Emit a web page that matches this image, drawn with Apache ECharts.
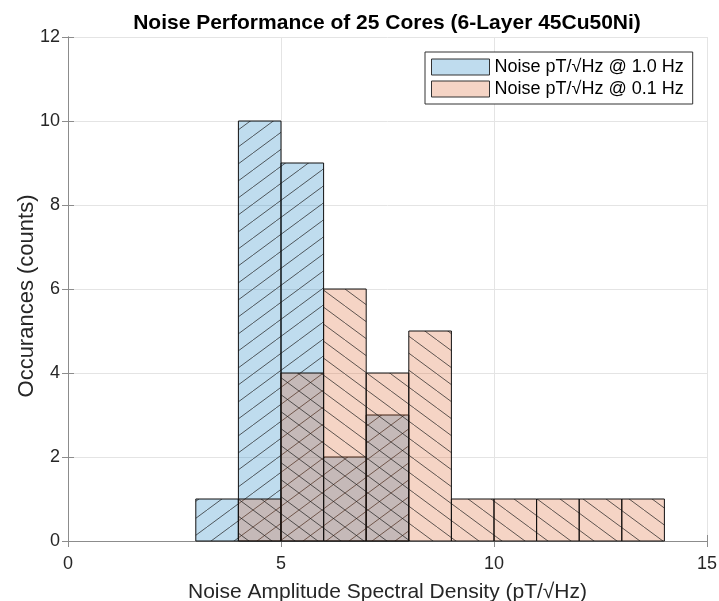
<!DOCTYPE html>
<html>
<head>
<meta charset="utf-8">
<script src="https://cdn.jsdelivr.net/npm/echarts@6/dist/echarts.min.js"></script>
<style>
  html, body { margin: 0; padding: 0; background: #fff; }
  #chart { width: 719px; height: 601px; }
</style>
</head>
<body>
<div id="chart"></div>
<script>
// histogram bins (left edge), bin width 1
const binWidth = 1;
const binStart1Hz = [3, 4, 5, 6, 7];
const counts1Hz = [1, 10, 9, 2, 3];
const binStart01Hz = [4, 5, 6, 7, 8, 9, 10, 11, 12, 13];
const counts01Hz = [1, 4, 6, 4, 5, 1, 1, 1, 1, 1];

const seriesNames = ['Noise pT/\u221AHz @ 1.0 Hz', 'Noise pT/\u221AHz @ 0.1 Hz'];

const blueFill = 'rgba(0,114,189,0.25)';
const redFill = 'rgba(217,83,25,0.25)';

// hatch tile, dir 1 = "/" , -1 = "\"
function makeHatch(fill, dir) {
    const w = 23, h = 17;
    const c = document.createElement('canvas');
    c.width = w; c.height = h;
    const ctx = c.getContext('2d');
    ctx.fillStyle = fill;
    ctx.fillRect(0, 0, w, h);
    ctx.strokeStyle = 'rgba(30,30,30,0.7)';
    ctx.lineWidth = 1;
    for (let n = -1; n <= 1; n++) {
        ctx.beginPath();
        if (dir > 0) {
            ctx.moveTo(n * w, h);
            ctx.lineTo(n * w + w, 0);
        } else {
            ctx.moveTo(n * w, 0);
            ctx.lineTo(n * w + w, h);
        }
        ctx.stroke();
    }
    return { image: c, repeat: 'repeat' };
}

function toBins(starts, counts) {
    return starts.map((s, i) => [s, s + binWidth, counts[i]]);
}

function histItem(pattern) {
    return function (params, api) {
        const p0 = api.coord([api.value(0), api.value(2)]);
        const p1 = api.coord([api.value(1), 0]);
        return {
            type: 'rect',
            shape: { x: p0[0], y: p0[1], width: p1[0] - p0[0], height: p1[1] - p0[1] },
            style: { fill: pattern, stroke: '#111', lineWidth: 1 }
        };
    };
}

const chart = echarts.init(document.getElementById('chart'), null, { renderer: 'canvas' });

const axisGray = '#8c8c8c';
const labelColor = '#262626';
const font = 'Arial, "Liberation Sans", sans-serif';

const option = {
    animation: false,
    textStyle: { fontFamily: font },
    title: {
        text: 'Noise Performance of 25 Cores (6-Layer 45Cu50Ni)',
        left: 387, textAlign: 'center', top: 13, padding: 0,
        textStyle: { fontSize: 21, fontWeight: 'bold', color: '#000', fontFamily: font }
    },
    legend: {
        data: seriesNames,
        orient: 'vertical',
        left: 425, top: 52,
        icon: 'rect',
        itemWidth: 58, itemHeight: 16, itemGap: 4,
        padding: [6, 9, 6, 6],
        backgroundColor: '#fff',
        borderColor: '#333', borderWidth: 1,
        itemStyle: { borderColor: '#333', borderWidth: 1 },
        textStyle: { fontSize: 18, color: '#000', fontFamily: font }
    },
    grid: { left: 68, right: 12, top: 37, bottom: 60, outerBoundsMode: 'none', containLabel: false },
    xAxis: [{
        type: 'value', min: 0, max: 15, interval: 5,
        name: 'Noise Amplitude Spectral Density (pT/\u221AHz)',
        nameLocation: 'middle', nameGap: 41, nameMoveOverlap: false,
        nameTextStyle: { fontSize: 21, color: labelColor },
        axisLine: { show: true, lineStyle: { color: axisGray } },
        axisTick: { show: true, inside: true, length: 6, lineStyle: { color: axisGray } },
        axisLabel: { fontSize: 18, color: labelColor, margin: 14 },
        splitLine: { show: true, lineStyle: { color: '#e4e4e4' } }
    }, {
        type: 'value', min: 0, max: 15, interval: 5, position: 'top',
        axisLine: { show: true, lineStyle: { color: axisGray } },
        axisTick: { show: true, inside: true, length: 6, lineStyle: { color: axisGray } },
        axisLabel: { show: false },
        splitLine: { show: false }
    }],
    yAxis: [{
        type: 'value', min: 0, max: 12, interval: 2,
        name: 'Occurances (counts)',
        nameLocation: 'middle', nameGap: 30, nameMoveOverlap: false,
        nameTextStyle: { fontSize: 22, color: labelColor, padding: [0, 14, 0, 0] },
        axisLine: { show: true, lineStyle: { color: axisGray } },
        axisTick: { show: true, inside: true, length: 6, lineStyle: { color: axisGray } },
        axisLabel: { fontSize: 18, color: labelColor, margin: 8 },
        splitLine: { show: true, lineStyle: { color: '#e4e4e4' } }
    }, {
        type: 'value', min: 0, max: 12, interval: 2, position: 'right',
        axisLine: { show: true, lineStyle: { color: axisGray } },
        axisTick: { show: true, inside: true, length: 6, lineStyle: { color: axisGray } },
        axisLabel: { show: false },
        splitLine: { show: false }
    }],
    series: [{
        name: seriesNames[0],
        type: 'custom',
        renderItem: histItem(makeHatch(blueFill, 1)),
        itemStyle: { color: blueFill },
        encode: { x: [0, 1], y: 2 },
        data: toBins(binStart1Hz, counts1Hz),
        z: 3
    }, {
        name: seriesNames[1],
        type: 'custom',
        renderItem: histItem(makeHatch(redFill, -1)),
        itemStyle: { color: redFill },
        encode: { x: [0, 1], y: 2 },
        data: toBins(binStart01Hz, counts01Hz),
        z: 4
    }]
};

chart.setOption(option);
</script>
</body>
</html>
